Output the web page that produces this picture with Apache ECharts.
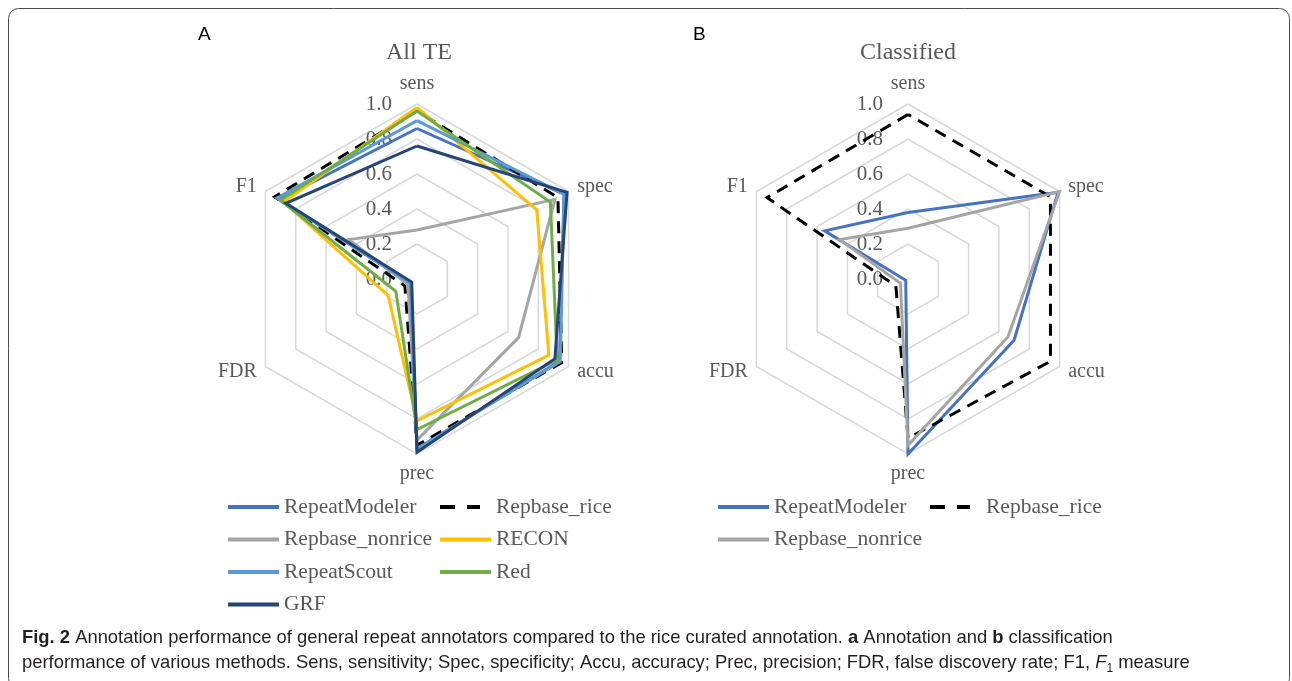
<!DOCTYPE html>
<html>
<head>
<meta charset="utf-8">
<script src="https://cdn.jsdelivr.net/npm/echarts@6/dist/echarts.min.js"></script>
<style>
  html, body { margin: 0; padding: 0; background: #fff; }
  #chart { width: 1292px; height: 681px; }
</style>
</head>
<body>
<div id="chart"></div>
<script>
// Metrics in clockwise order starting from the top
const metrics = ['sens', 'spec', 'accu', 'prec', 'FDR', 'F1'];

// Panel A: all transposable elements  [sens, spec, accu, prec, FDR, F1]
const allRepeatModeler  = [0.86, 0.97, 0.94, 0.97, 0.045, 0.91];
const allRepbaseRice    = [0.96, 0.93, 0.955, 0.95, 0.08, 0.94];
const allRepbaseNonrice = [0.28, 0.91, 0.67, 0.92, 0.06, 0.45];
const allRECON          = [0.98, 0.79, 0.87, 0.81, 0.19, 0.88];
const allRepeatScout    = [0.905, 0.97, 0.945, 0.97, 0.045, 0.925];
const allRed            = [0.96, 0.88, 0.925, 0.86, 0.14, 0.90];
const allGRF            = [0.76, 0.99, 0.91, 0.99, 0.035, 0.865];

// Panel B: classified elements
const clsRepeatModeler  = [0.38, 0.99, 0.70, 1.00, 0.015, 0.55];
const clsRepbaseRice    = [0.94, 0.94, 0.94, 0.91, 0.08, 0.93];
const clsRepbaseNonrice = [0.29, 1.00, 0.66, 0.95, 0.05, 0.45];

const panelTitles = ['All TE', 'Classified'];
const panelLetters = ['A', 'B'];

const colors = {
  RepeatModeler: '#4472C4',
  Repbase_rice: '#000000',
  Repbase_nonrice: '#A5A5A5',
  RECON: '#FFC000',
  RepeatScout: '#5B9BD5',
  Red: '#70AD47',
  GRF: '#264478'
};

const serifFont = '"Liberation Serif", "DejaVu Serif", serif';
const sansFont = '"Liberation Sans", Arial, sans-serif';
const textGray = '#595959';

// The radar places indicators counter-clockwise, so feed them in reverse
// (sens, F1, FDR, prec, accu, spec) to read clockwise on screen.
const radarOrder = [0, 5, 4, 3, 2, 1];
const toRadar = vals => radarOrder.map(i => vals[i]);

function makeRadar(cx) {
  return {
    center: [cx, 279],
    radius: 175,
    startAngle: 90,
    splitNumber: 5,
    shape: 'polygon',
    nameGap: 10,
    axisName: { color: textGray, fontSize: 20, fontFamily: serifFont },
    axisLine: { show: false },
    axisTick: { show: false },
    axisLabel: { show: false },
    splitArea: { show: false },
    splitLine: { lineStyle: { color: '#D9D9D9', width: 1.5 } },
    indicator: radarOrder.map((i, k) => {
      const ind = { name: metrics[i], min: 0, max: 1 };
      if (k === 0) {
        ind.axisLabel = {
          show: true, showMinLabel: true, showMaxLabel: true,
          margin: 25, color: textGray, fontSize: 21, fontFamily: serifFont,
          formatter: v => Number(v).toFixed(1)
        };
      }
      return ind;
    })
  };
}

function radarSeries(name, vals, radarIndex) {
  const dashed = name === 'Repbase_rice';
  return {
    type: 'radar',
    name: name,
    radarIndex: radarIndex,
    symbol: 'none',
    silent: true,
    color: colors[name],
    itemStyle: { color: colors[name] },
    lineStyle: {
      color: colors[name],
      width: 3,
      type: dashed ? [12, 8] : 'solid',
      join: 'miter'
    },
    data: [{ name: name, value: toRadar(vals) }]
  };
}

const series = [
  radarSeries('RepeatModeler', allRepeatModeler, 0),
  radarSeries('Repbase_rice', allRepbaseRice, 0),
  radarSeries('Repbase_nonrice', allRepbaseNonrice, 0),
  radarSeries('RECON', allRECON, 0),
  radarSeries('RepeatScout', allRepeatScout, 0),
  radarSeries('Red', allRed, 0),
  radarSeries('GRF', allGRF, 0),
  radarSeries('RepeatModeler', clsRepeatModeler, 1),
  radarSeries('Repbase_rice', clsRepbaseRice, 1),
  radarSeries('Repbase_nonrice', clsRepbaseNonrice, 1)
];

// Legend swatch for the dashed series: two dashes inside a 51x4 box
const dashIcon = 'path://M0,0H15V4H0Z M27,0H40V4H27Z M51,0L51,4';

function legendBlock(left, top, names) {
  return {
    left: left, top: top,
    orient: 'vertical',
    selectedMode: false,
    itemWidth: 51, itemHeight: 4,
    itemGap: 10.5,
    icon: 'rect',
    padding: 0,
    textStyle: { color: textGray, fontSize: 21.5, fontFamily: serifFont, lineHeight: 22 },
    data: names.map(n => n === 'Repbase_rice' ? { name: n, icon: dashIcon } : n)
  };
}

const capSize = 18.4;
const chart = echarts.init(document.getElementById('chart'), null, { renderer: 'canvas' });

chart.setOption({
  animation: false,
  backgroundColor: '#ffffff',
  title: [
    { text: panelTitles[0], left: 414, top: 36, textAlign: 'center',
      textStyle: { color: textGray, fontSize: 24, fontWeight: 'normal', fontFamily: serifFont } },
    { text: panelTitles[1], left: 903, top: 36, textAlign: 'center',
      textStyle: { color: textGray, fontSize: 24, fontWeight: 'normal', fontFamily: serifFont } }
  ],
  radar: [makeRadar(417), makeRadar(908)],
  legend: [
    legendBlock(228, 496, ['RepeatModeler', 'Repbase_nonrice', 'RepeatScout', 'GRF']),
    legendBlock(440, 496, ['Repbase_rice', 'RECON', 'Red']),
    legendBlock(718, 496, ['RepeatModeler', 'Repbase_nonrice']),
    legendBlock(930, 496, ['Repbase_rice'])
  ],
  graphic: [
    {
      type: 'rect', silent: true,
      shape: { x: 8.5, y: 8.5, width: 1281, height: 680, r: 10 },
      style: { fill: 'none', stroke: '#4d4d4d', lineWidth: 1 }
    },
    {
      type: 'text', left: 198, top: 25, silent: true,
      style: { text: panelLetters[0], fill: '#000', fontSize: 19, fontFamily: sansFont }
    },
    {
      type: 'text', left: 693, top: 25, silent: true,
      style: { text: panelLetters[1], fill: '#000', fontSize: 19, fontFamily: sansFont }
    },
    {
      type: 'text', left: 22, top: 625, silent: true,
      style: {
        text: '{b|Fig. 2}{r| Annotation performance of general repeat annotators compared to the rice curated annotation. }{b|a}{r| Annotation and }{b|b}{r| classification}\n' +
              '{r|performance of various methods. Sens, sensitivity; Spec, specificity; Accu, accuracy; Prec, precision; FDR, false discovery rate; F1, }{i|F}{sub|1}{r| measure}',
        fill: '#231f20',
        fontSize: capSize,
        lineHeight: 25,
        fontFamily: sansFont,
        rich: {
          r: { fontSize: capSize, fontFamily: sansFont, fill: '#231f20', lineHeight: 25 },
          b: { fontSize: capSize, fontFamily: sansFont, fontWeight: 'bold', fill: '#231f20', lineHeight: 25 },
          i: { fontSize: capSize, fontFamily: sansFont, fontStyle: 'italic', fill: '#231f20', lineHeight: 25 },
          sub: { fontSize: 12, fontFamily: sansFont, fill: '#231f20', verticalAlign: 'bottom', lineHeight: 18 }
        }
      }
    }
  ],
  series: series
});
</script>
</body>
</html>
